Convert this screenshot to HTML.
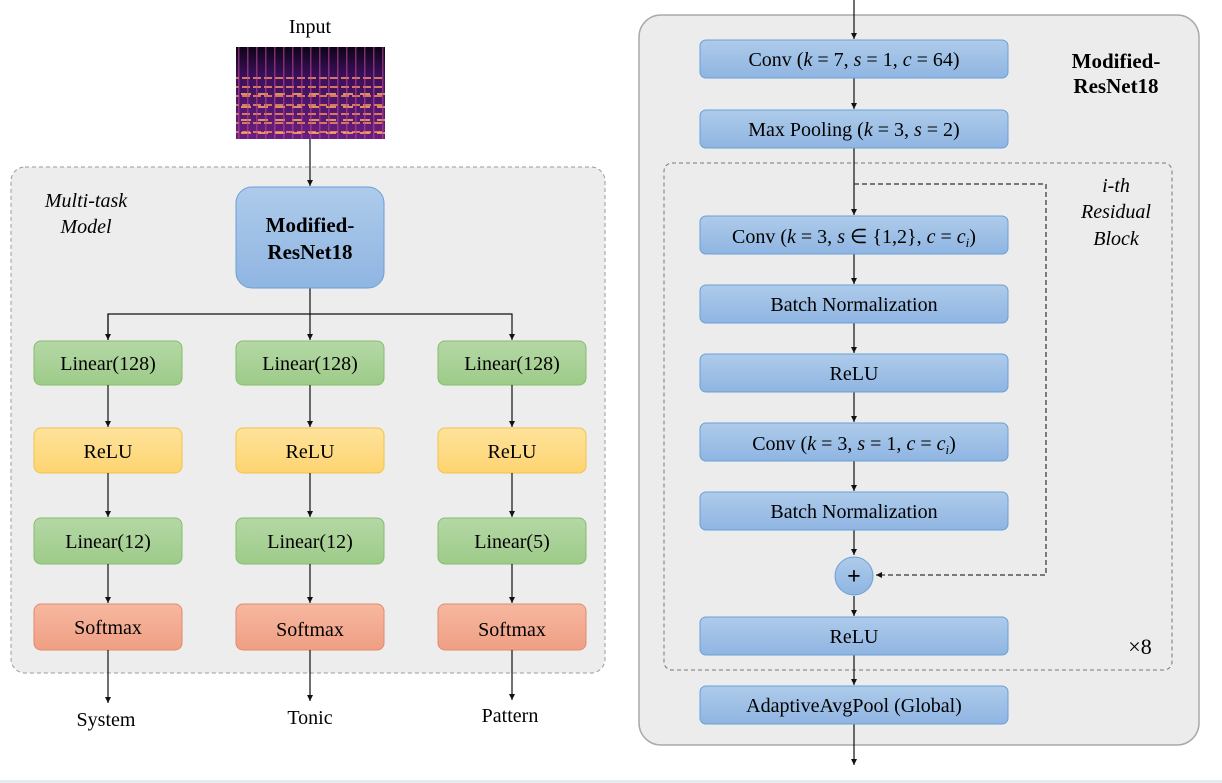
<!DOCTYPE html>
<html><head><style>html,body{margin:0;padding:0;background:#fff}svg{display:block}</style></head>
<body>
<svg width="1222" height="783" viewBox="0 0 1222 783" xmlns="http://www.w3.org/2000/svg" font-family="'Liberation Serif',serif">
<defs>
<linearGradient id="bl" x1="0" y1="0" x2="0" y2="1"><stop offset="0" stop-color="#aecbea"/><stop offset="1" stop-color="#8fb5e2"/></linearGradient>
<linearGradient id="gr" x1="0" y1="0" x2="0" y2="1"><stop offset="0" stop-color="#b5d8a6"/><stop offset="1" stop-color="#9dcb89"/></linearGradient>
<linearGradient id="ye" x1="0" y1="0" x2="0" y2="1"><stop offset="0" stop-color="#ffe39d"/><stop offset="1" stop-color="#fdd470"/></linearGradient>
<linearGradient id="rd" x1="0" y1="0" x2="0" y2="1"><stop offset="0" stop-color="#f6b8a0"/><stop offset="1" stop-color="#ef9f84"/></linearGradient>
<linearGradient id="sp" x1="0" y1="0" x2="0" y2="1"><stop offset="0" stop-color="#0d0418"/><stop offset="0.3" stop-color="#3a0f5a"/><stop offset="1" stop-color="#6a1f80"/></linearGradient>
<pattern id="sh" width="11" height="9" patternUnits="userSpaceOnUse"><rect y="5" width="8" height="2" fill="#f08a5a" opacity="0.85"/></pattern>
<pattern id="sh2" width="17" height="13" patternUnits="userSpaceOnUse"><rect x="3" y="2" width="10" height="2" fill="#fbb060" opacity="0.8"/></pattern>
<pattern id="sv" width="9" height="10" patternUnits="userSpaceOnUse"><rect x="4" width="1.5" height="10" fill="#c04a90" opacity="0.6"/></pattern>
<marker id="ar" markerWidth="8" markerHeight="8" refX="6" refY="3" orient="auto" markerUnits="userSpaceOnUse"><path d="M0,0 L6,3 L0,6 z" fill="#111"/></marker>
</defs>
<rect x="0" y="780" width="1222" height="3" fill="#e6eaec"/>
<!-- LEFT -->
<text x="310" y="33" font-size="20" text-anchor="middle">Input</text>
<rect x="236" y="47" width="149" height="92" fill="url(#sp)"/>
<rect x="236" y="72" width="149" height="67" fill="url(#sh)"/>
<rect x="236" y="85" width="149" height="54" fill="url(#sh2)"/>
<rect x="236" y="47" width="149" height="92" fill="url(#sv)"/>
<rect x="11" y="167" width="594" height="506" rx="14" fill="#ededed" stroke="#9a9a9a" stroke-dasharray="4,3"/>
<text font-size="20" font-style="italic" text-anchor="middle"><tspan x="86" y="207">Multi-task</tspan><tspan x="86" y="233">Model</tspan></text>
<g stroke="#111" stroke-width="1.2" fill="none">
<line x1="310" y1="139" x2="310" y2="186" marker-end="url(#ar)"/>
<polyline points="108,340 108,314 512,314 512,340" marker-end="url(#ar)"/>
<line x1="108" y1="314" x2="108" y2="340" marker-end="url(#ar)"/>
<line x1="310" y1="288" x2="310" y2="340" marker-end="url(#ar)"/>
</g>
<rect x="236" y="187" width="148" height="101" rx="16" fill="url(#bl)" stroke="#6a9fd6"/>
<text font-size="21" font-weight="bold" text-anchor="middle"><tspan x="310" y="232">Modified-</tspan><tspan x="310" y="259">ResNet18</tspan></text>
<g font-size="20" text-anchor="middle" stroke-width="1.2">
<g>
<rect x="34" y="341" width="148" height="44" rx="7" fill="url(#gr)" stroke="#86bd6c" stroke-width="1"/><text x="108" y="370">Linear(128)</text>
<line x1="108" y1="385" x2="108" y2="427" stroke="#111" marker-end="url(#ar)"/>
<rect x="34" y="428" width="148" height="45" rx="7" fill="url(#ye)" stroke="#f2c24a" stroke-width="1"/><text x="108" y="458">ReLU</text>
<line x1="108" y1="473" x2="108" y2="517" stroke="#111" marker-end="url(#ar)"/>
<rect x="34" y="518" width="148" height="46" rx="7" fill="url(#gr)" stroke="#86bd6c" stroke-width="1"/><text x="108" y="548">Linear(12)</text>
<line x1="108" y1="564" x2="108" y2="603" stroke="#111" marker-end="url(#ar)"/>
<rect x="34" y="604" width="148" height="46" rx="7" fill="url(#rd)" stroke="#e48a6c" stroke-width="1"/><text x="108" y="634">Softmax</text>
<line x1="108" y1="650" x2="108" y2="703" stroke="#111" marker-end="url(#ar)"/>
<text x="106" y="726">System</text>
</g>
<g>
<rect x="236" y="341" width="148" height="44" rx="7" fill="url(#gr)" stroke="#86bd6c" stroke-width="1"/><text x="310" y="370">Linear(128)</text>
<line x1="310" y1="385" x2="310" y2="427" stroke="#111" marker-end="url(#ar)"/>
<rect x="236" y="428" width="148" height="45" rx="7" fill="url(#ye)" stroke="#f2c24a" stroke-width="1"/><text x="310" y="458">ReLU</text>
<line x1="310" y1="473" x2="310" y2="517" stroke="#111" marker-end="url(#ar)"/>
<rect x="236" y="518" width="148" height="46" rx="7" fill="url(#gr)" stroke="#86bd6c" stroke-width="1"/><text x="310" y="548">Linear(12)</text>
<line x1="310" y1="564" x2="310" y2="603" stroke="#111" marker-end="url(#ar)"/>
<rect x="236" y="604" width="148" height="46" rx="7" fill="url(#rd)" stroke="#e48a6c" stroke-width="1"/><text x="310" y="636">Softmax</text>
<line x1="310" y1="650" x2="310" y2="701" stroke="#111" marker-end="url(#ar)"/>
<text x="310" y="724">Tonic</text>
</g>
<g>
<rect x="438" y="341" width="148" height="44" rx="7" fill="url(#gr)" stroke="#86bd6c" stroke-width="1"/><text x="512" y="370">Linear(128)</text>
<line x1="512" y1="385" x2="512" y2="427" stroke="#111" marker-end="url(#ar)"/>
<rect x="438" y="428" width="148" height="45" rx="7" fill="url(#ye)" stroke="#f2c24a" stroke-width="1"/><text x="512" y="458">ReLU</text>
<line x1="512" y1="473" x2="512" y2="517" stroke="#111" marker-end="url(#ar)"/>
<rect x="438" y="518" width="148" height="46" rx="7" fill="url(#gr)" stroke="#86bd6c" stroke-width="1"/><text x="512" y="548">Linear(5)</text>
<line x1="512" y1="564" x2="512" y2="603" stroke="#111" marker-end="url(#ar)"/>
<rect x="438" y="604" width="148" height="46" rx="7" fill="url(#rd)" stroke="#e48a6c" stroke-width="1"/><text x="512" y="636">Softmax</text>
<line x1="512" y1="650" x2="512" y2="700" stroke="#111" marker-end="url(#ar)"/>
<text x="510" y="722">Pattern</text>
</g>
</g>
<!-- RIGHT -->
<rect x="639" y="15" width="560" height="730" rx="22" fill="#ececec" stroke="#aaa" stroke-width="1.5"/>
<rect x="664" y="163" width="508" height="507" rx="8" fill="none" stroke="#777" stroke-dasharray="4,3"/>
<text font-size="21" font-weight="bold" text-anchor="middle"><tspan x="1116" y="68">Modified-</tspan><tspan x="1116" y="93">ResNet18</tspan></text>
<text font-size="20" font-style="italic" text-anchor="middle"><tspan x="1116" y="192">i-th</tspan><tspan x="1116" y="218">Residual</tspan><tspan x="1116" y="245">Block</tspan></text>
<text x="1140" y="654" font-size="22" text-anchor="middle">×8</text>
<g stroke="#111" stroke-width="1.2" fill="none">
<line x1="854" y1="0" x2="854" y2="39" marker-end="url(#ar)"/>
<line x1="854" y1="78" x2="854" y2="109" marker-end="url(#ar)"/>
<line x1="854" y1="148" x2="854" y2="215" marker-end="url(#ar)"/>
<line x1="854" y1="254" x2="854" y2="284" marker-end="url(#ar)"/>
<line x1="854" y1="323" x2="854" y2="353" marker-end="url(#ar)"/>
<line x1="854" y1="392" x2="854" y2="422" marker-end="url(#ar)"/>
<line x1="854" y1="461" x2="854" y2="491" marker-end="url(#ar)"/>
<line x1="854" y1="530" x2="854" y2="555" marker-end="url(#ar)"/>
<line x1="854" y1="596" x2="854" y2="616" marker-end="url(#ar)"/>
<line x1="854" y1="655" x2="854" y2="685" marker-end="url(#ar)"/>
<line x1="854" y1="724" x2="854" y2="765" marker-end="url(#ar)"/>
<polyline points="854,184 1046,184 1046,575 876,575" stroke="#333" stroke-dasharray="5,3" marker-end="url(#ar)"/>
</g>
<g font-size="20" text-anchor="middle">
<rect x="700" y="40" width="308" height="38" rx="6" fill="url(#bl)" stroke="#6a9fd6"/>
<text x="854" y="66">Conv (<tspan font-style="italic">k</tspan> = 7, <tspan font-style="italic">s</tspan> = 1, <tspan font-style="italic">c</tspan> = 64)</text>
<rect x="700" y="110" width="308" height="38" rx="6" fill="url(#bl)" stroke="#6a9fd6"/>
<text x="854" y="136">Max Pooling (<tspan font-style="italic">k</tspan> = 3, <tspan font-style="italic">s</tspan> = 2)</text>
<rect x="700" y="216" width="308" height="38" rx="6" fill="url(#bl)" stroke="#6a9fd6"/>
<text x="854" y="243">Conv (<tspan font-style="italic">k</tspan> = 3, <tspan font-style="italic">s</tspan> ∈ {1,2}, <tspan font-style="italic">c</tspan> = <tspan font-style="italic">c</tspan><tspan font-style="italic" font-size="13" dy="4">i</tspan><tspan dy="-4">)</tspan></text>
<rect x="700" y="285" width="308" height="38" rx="6" fill="url(#bl)" stroke="#6a9fd6"/>
<text x="854" y="311">Batch Normalization</text>
<rect x="700" y="354" width="308" height="38" rx="6" fill="url(#bl)" stroke="#6a9fd6"/>
<text x="854" y="380">ReLU</text>
<rect x="700" y="423" width="308" height="38" rx="6" fill="url(#bl)" stroke="#6a9fd6"/>
<text x="854" y="450">Conv (<tspan font-style="italic">k</tspan> = 3, <tspan font-style="italic">s</tspan> = 1, <tspan font-style="italic">c</tspan> = <tspan font-style="italic">c</tspan><tspan font-style="italic" font-size="13" dy="4">i</tspan><tspan dy="-4">)</tspan></text>
<rect x="700" y="492" width="308" height="38" rx="6" fill="url(#bl)" stroke="#6a9fd6"/>
<text x="854" y="518">Batch Normalization</text>
<circle cx="854" cy="576" r="19" fill="url(#bl)" stroke="#6a9fd6"/>
<text x="854" y="584" font-size="24" font-weight="bold">+</text>
<rect x="700" y="617" width="308" height="38" rx="6" fill="url(#bl)" stroke="#6a9fd6"/>
<text x="854" y="643">ReLU</text>
<rect x="700" y="686" width="308" height="38" rx="6" fill="url(#bl)" stroke="#6a9fd6"/>
<text x="854" y="712">AdaptiveAvgPool (Global)</text>
</g>
</svg>
</body></html>
